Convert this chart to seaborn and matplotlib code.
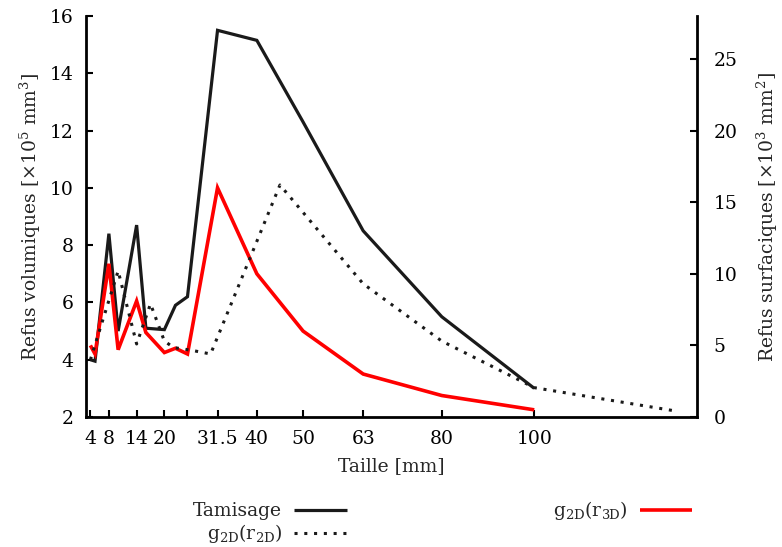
import matplotlib
matplotlib.use("Agg")
import matplotlib.pyplot as plt
import seaborn as sns

sns.set_theme(style="ticks")
plt.rcParams['font.family'] = ['DejaVu Serif']
plt.rcParams['mathtext.fontset'] = 'dejavuserif'

# Data
taille = [4, 5, 8, 10, 14, 16, 20, 22.4, 25, 31.5, 40, 50, 63, 80, 100]
tamisage = [4.0, 3.95, 8.4, 5.0, 8.7, 5.1, 5.05, 5.9, 6.2, 15.5, 15.15, 12.3, 8.5, 5.5, 3.0]
g2d_r3d = [4.5, 4.2, 7.35, 4.35, 6.05, 4.95, 4.25, 4.4, 4.2, 10.0, 7.0, 5.0, 3.5, 2.75, 2.25]

taille_2d = [4, 10, 14, 17, 20, 22, 26, 30, 45, 63, 80, 100, 130]
g2d_r2d = [4.0, 10.2, 5.1, 7.9, 5.3, 4.85, 4.65, 4.4, 16.2, 9.3, 5.3, 2.05, 0.45]

xticks = [4, 8, 14, 20, 25, 31.5, 40, 50, 63, 80, 100]
xticklabels = ['4', '8', '14', '20', '', '31.5', '40', '50', '63', '80', '100']

fs = 13.5
fig = plt.figure(figsize=(7.82, 5.47), dpi=100)
ax = fig.add_axes([86 / 782, 1 - 417 / 547, (697 - 86) / 782, (417 - 16) / 547])
ax2 = ax.twinx()

line_kw = dict(solid_joinstyle='miter', solid_capstyle='butt')
sns.lineplot(x=taille, y=tamisage, ax=ax, color='#1a1a1a', lw=2.3, **line_kw)
sns.lineplot(x=taille, y=g2d_r3d, ax=ax, color='#ff0000', lw=2.6, **line_kw)
sns.lineplot(x=taille_2d, y=g2d_r2d, ax=ax2, color='#1a1a1a', lw=2.2,
             linestyle=(0, (1, 2.2)))

ax.set_xlim(3.05, 135.2)
ax.set_ylim(2, 16)
ax2.set_ylim(0, 28)
ax.set_xticks(xticks)
ax.set_xticklabels(xticklabels)
ax.set_yticks(range(2, 17, 2))
ax2.set_yticks(range(0, 26, 5))

for a in (ax, ax2):
    a.spines['top'].set_visible(False)
    for s in a.spines.values():
        s.set_linewidth(2)
        s.set_color('black')
ax.spines['right'].set_visible(False)
ax2.spines['left'].set_visible(False)
ax2.spines['bottom'].set_visible(False)

ax.tick_params(axis='both', direction='in', length=5, width=1.5,
               labelsize=fs, pad=9, colors='black')
ax2.tick_params(axis='y', direction='in', length=5, width=1.5,
                labelsize=fs, pad=12, colors='black')

ax.set_xlabel('Taille [mm]', fontsize=fs, labelpad=7)
ax.set_ylabel(r'Refus volumiques [$\times10^5$ mm$^3$]', fontsize=fs, labelpad=5)
ax2.set_ylabel(r'Refus surfaciques [$\times10^3$ mm$^2$]', fontsize=fs, labelpad=12)

handles = [ax.lines[0], ax2.lines[0], ax.lines[1]]
labels = ['Tamisage', r'g$_{\mathrm{2D}}$(r$_{\mathrm{2D}}$)',
          r'g$_{\mathrm{2D}}$(r$_{\mathrm{3D}}$)']
fig.legend(handles, labels, ncol=2, markerfirst=False, frameon=False,
           loc='center', bbox_to_anchor=(0.566, 0.045), fontsize=fs,
           handlelength=2.8, handletextpad=0.64, columnspacing=11,
           labelspacing=0.1)

fig.savefig('out.png', dpi=100)
